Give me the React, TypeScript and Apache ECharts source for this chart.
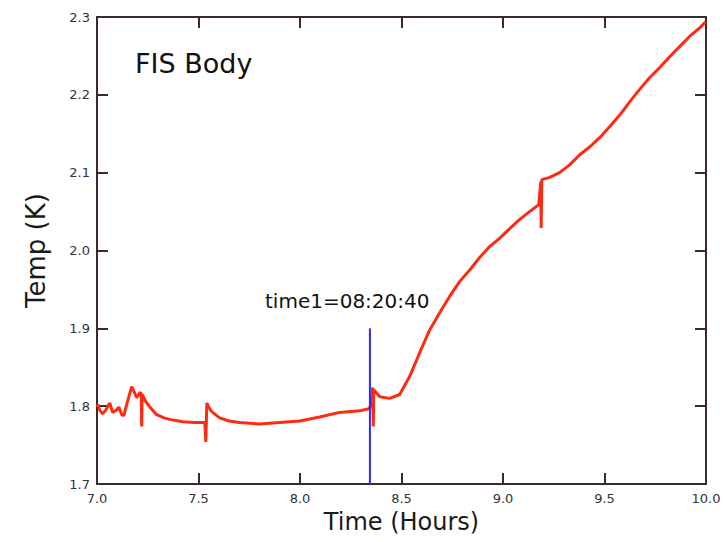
import React, { useEffect, useRef } from "react";
import * as echarts from "echarts";

const timeHours = [
  7.0, 7.006, 7.013, 7.028, 7.043, 7.063, 7.077, 7.097, 7.107, 7.122, 7.132, 7.146,
  7.171, 7.196, 7.21, 7.218, 7.22, 7.223, 7.24, 7.26, 7.294, 7.33, 7.358, 7.422, 7.481, 7.531,
  7.536, 7.541, 7.55, 7.565, 7.604, 7.65, 7.703, 7.801, 7.9, 7.998, 8.097, 8.195, 8.294, 8.343,
  8.353, 8.358, 8.361, 8.363, 8.393, 8.442, 8.491, 8.54, 8.59, 8.639, 8.688, 8.737,
  8.786, 8.836, 8.885, 8.934, 8.984, 9.033, 9.082, 9.131, 9.176, 9.186, 9.188, 9.191,
  9.23, 9.279, 9.328, 9.378, 9.427, 9.476, 9.525, 9.575, 9.624, 9.673, 9.722, 9.772,
  9.821, 9.87, 9.919, 9.969, 9.998,
];
const tempK = [
  1.799, 1.802, 1.795, 1.79, 1.795, 1.804, 1.792, 1.795, 1.799, 1.789, 1.788, 1.802,
  1.825, 1.811, 1.817, 1.817, 1.774, 1.815, 1.806, 1.799, 1.789, 1.785, 1.783, 1.78, 1.779, 1.779,
  1.754, 1.804, 1.799, 1.793, 1.785, 1.781, 1.779, 1.777, 1.779, 1.781, 1.786, 1.792, 1.794, 1.797,
  1.808, 1.824, 1.774, 1.821, 1.812, 1.81, 1.815, 1.838, 1.869, 1.898, 1.92, 1.941,
  1.96, 1.975, 1.991, 2.005, 2.016, 2.028, 2.04, 2.05, 2.059, 2.088, 2.029, 2.091,
  2.094, 2.1, 2.11, 2.123, 2.133, 2.145, 2.159, 2.174, 2.191, 2.207, 2.222, 2.235,
  2.249, 2.262, 2.275, 2.286, 2.294,
];
const markerTime = 8.3444; // 08:20:40
const markerRange = [1.7, 1.9];
const markerLabel = "time1=08:20:40";
const titleText = "FIS Body";
const xTicks = { min: 7, max: 10, interval: 0.5 };
const yTicks = { min: 1.7, max: 2.3, interval: 0.1 };

const FONT = "DejaVu Sans";
const AXIS_COLOR = "#3a2a2c";

export default function App() {
  const ref = useRef<HTMLDivElement>(null);
  useEffect(() => {
    if (!ref.current) return;
    const chart = echarts.init(ref.current, null, { renderer: "svg" });
    const tempData = timeHours.map((t, i) => [t, tempK[i]]);
    const markerData = markerRange.map((v) => [markerTime, v]);
    const baseAxisLine = { show: true, lineStyle: { color: AXIS_COLOR, width: 2 } };
    const baseTick = { show: true, inside: true, length: 11, lineStyle: { color: AXIS_COLOR, width: 2 } };
    chart.setOption({
      animation: false,
      backgroundColor: "#ffffff",
      grid: { left: 97, right: 20, top: 17, bottom: 58 },
      xAxis: [
        {
          type: "value",
          position: "bottom",
          ...xTicks,
          axisLine: baseAxisLine,
          axisTick: baseTick,
          splitLine: { show: false },
          axisLabel: {
            margin: 8,
            fontFamily: FONT,
            fontSize: 13,
            color: "#333",
            formatter: (v: number) => v.toFixed(1),
          },
          name: "Time (Hours)",
          nameLocation: "middle",
          nameGap: 24,
          nameTextStyle: { fontFamily: FONT, fontSize: 24, color: "#1a1a1a" },
        },
        {
          type: "value",
          position: "top",
          ...xTicks,
          axisLine: baseAxisLine,
          axisTick: baseTick,
          splitLine: { show: false },
          axisLabel: { show: false },
        },
      ],
      yAxis: [
        {
          type: "value",
          position: "left",
          ...yTicks,
          axisLine: baseAxisLine,
          axisTick: baseTick,
          splitLine: { show: false },
          axisLabel: {
            margin: 7,
            fontFamily: FONT,
            fontSize: 13,
            color: "#333",
            formatter: (v: number) => v.toFixed(1),
          },
          name: "Temp (K)",
          nameLocation: "middle",
          nameGap: 48,
          nameTextStyle: { fontFamily: FONT, fontSize: 26, color: "#1a1a1a" },
        },
        {
          type: "value",
          position: "right",
          ...yTicks,
          axisLine: baseAxisLine,
          axisTick: baseTick,
          splitLine: { show: false },
          axisLabel: { show: false },
        },
      ],
      series: [
        {
          type: "line",
          data: tempData,
          symbol: "none",
          lineStyle: { color: "#ff2a12", width: 3 },
        },
        {
          type: "line",
          data: markerData,
          symbol: "none",
          lineStyle: { color: "#2a2aff", width: 2 },
        },
      ],
      graphic: [
        {
          type: "text",
          left: 135,
          top: 50,
          style: { text: titleText, font: `27px "${FONT}"`, fill: "#111" },
        },
        {
          type: "text",
          left: 265,
          top: 291,
          style: { text: markerLabel, font: `20px "${FONT}"`, fill: "#111" },
        },
      ],
    });
    return () => chart.dispose();
  }, []);
  return (
    <div
      ref={ref}
      style={{ position: "fixed", left: 0, top: 0, width: 726, height: 542, background: "#fff" }}
    />
  );
}
